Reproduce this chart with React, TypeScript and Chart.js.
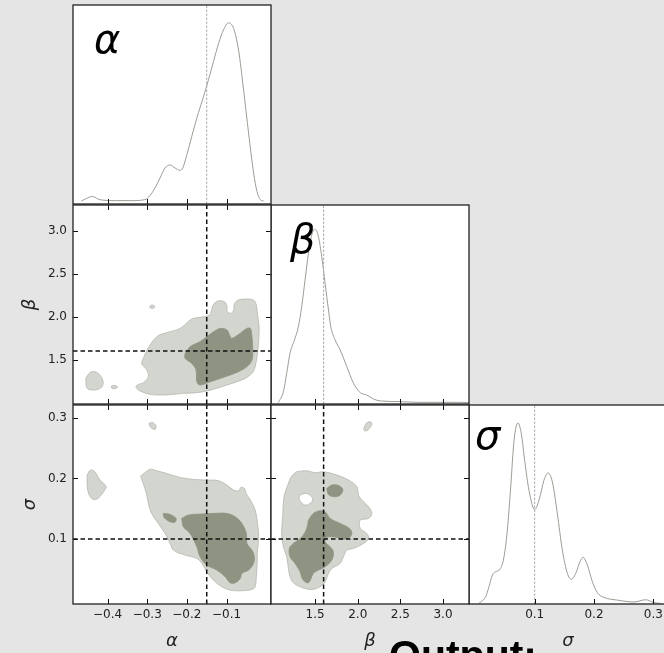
import React, { useEffect, useRef } from "react";
import { Chart, registerables } from "chart.js";

Chart.register(...registerables);

type Pt = [number, number];

// ---------- axis limits, ticks, truths ----------
const ALPHA_LIM: Pt = [-0.487, 0.012];
const BETA_LIM: Pt = [0.983, 3.305];
const SIGMA_LIM_X: Pt = [-0.0107, 0.323];
const SIGMA_LIM_Y: Pt = [-0.007, 0.321];
const ALPHA_TICKS = [-0.4, -0.3, -0.2, -0.1];
const BETA_TICKS = [1.5, 2.0, 2.5, 3.0];
const SIGMA_TICKS = [0.1, 0.2, 0.3];
const TRUTH_ALPHA = -0.15;
const TRUTH_BETA = 1.6;
const TRUTH_SIGMA = 0.1;
const NAME_ALPHA = "α";
const NAME_BETA = "β";
const NAME_SIGMA = "σ";
const FOOTER_TEXT = "Output:";

// ---------- 1D marginals (normalised density) ----------
const ALPHA_GRID = [-0.466, -0.455, -0.438, -0.425, -0.41, -0.38, -0.34, -0.3056, -0.293, -0.2804, -0.2677, -0.255, -0.2425, -0.2298, -0.217, -0.2104, -0.2, -0.1877, -0.175, -0.158, -0.1456, -0.133, -0.12, -0.1077, -0.095, -0.0824, -0.0698, -0.0571, -0.0445, -0.0318, -0.0234, -0.015, -0.0066];
const ALPHA_DENS = [0, 0.012, 0.026, 0.012, 0.004, 0.002, 0.002, 0.0075, 0.03, 0.073, 0.129, 0.185, 0.202, 0.185, 0.172, 0.185, 0.26, 0.362, 0.465, 0.586, 0.68, 0.782, 0.885, 0.96, 1.0, 0.969, 0.848, 0.624, 0.381, 0.157, 0.054, 0.0075, 0];
const ALPHA_DENS_LIM: Pt = [-0.017, 1.1];

const BETA_GRID = [1.069, 1.128, 1.167, 1.206, 1.265, 1.304, 1.343, 1.3825, 1.422, 1.461, 1.5, 1.539, 1.578, 1.6175, 1.657, 1.684, 1.735, 1.794, 1.872, 1.95, 2.029, 2.107, 2.185, 2.264, 2.499, 2.695, 3.204, 3.31];
const BETA_DENS = [0, 0.063, 0.169, 0.285, 0.371, 0.438, 0.554, 0.708, 0.862, 0.967, 1.0, 0.958, 0.842, 0.688, 0.535, 0.438, 0.362, 0.304, 0.208, 0.112, 0.058, 0.044, 0.021, 0.01, 0.006, 0.002, 0.002, 0];
const BETA_DENS_LIM: Pt = [-0.0077, 1.14];

const SIGMA_GRID = [0.0062, 0.0174, 0.023, 0.0287, 0.037, 0.0427, 0.0483, 0.0539, 0.0596, 0.0652, 0.0719, 0.0775, 0.0831, 0.0904, 0.1, 0.1073, 0.1157, 0.1225, 0.1298, 0.1382, 0.1466, 0.1551, 0.1618, 0.1691, 0.1764, 0.1815, 0.1888, 0.1972, 0.2056, 0.2169, 0.2393, 0.2674, 0.2871, 0.3011, 0.3124];
const SIGMA_DENS = [0, 0.037, 0.092, 0.157, 0.179, 0.194, 0.258, 0.406, 0.646, 0.904, 1.0, 0.941, 0.793, 0.627, 0.52, 0.572, 0.683, 0.723, 0.673, 0.498, 0.295, 0.166, 0.133, 0.166, 0.231, 0.255, 0.212, 0.12, 0.059, 0.033, 0.018, 0.0074, 0.02, 0.004, 0];
const SIGMA_DENS_LIM: Pt = [-0.0037, 1.1];

// ---------- 2D contours (alpha, beta) ----------
const AB_OUTER: Pt[] = [[-0.301, 1.613], [-0.276, 1.768], [-0.251, 1.815], [-0.217, 1.865], [-0.188, 1.974], [-0.167, 1.994], [-0.148, 2.009], [-0.14, 2.04], [-0.135, 2.126], [-0.126, 2.176], [-0.114, 2.188], [-0.103, 2.168], [-0.099, 2.118], [-0.098, 2.06], [-0.089, 2.04], [-0.082, 2.079], [-0.08, 2.157], [-0.07, 2.196], [-0.053, 2.207], [-0.032, 2.196], [-0.025, 2.137], [-0.022, 2.021], [-0.018, 1.885], [-0.019, 1.729], [-0.022, 1.574], [-0.028, 1.418], [-0.036, 1.341], [-0.053, 1.282], [-0.074, 1.243], [-0.099, 1.205], [-0.125, 1.166], [-0.15, 1.135], [-0.175, 1.115], [-0.209, 1.107], [-0.242, 1.092], [-0.268, 1.088], [-0.293, 1.096], [-0.318, 1.135], [-0.328, 1.177], [-0.325, 1.205], [-0.31, 1.232], [-0.297, 1.302], [-0.301, 1.38], [-0.308, 1.418], [-0.314, 1.457], [-0.308, 1.535]];
const AB_OUTER_B: Pt[] = [[-0.4548, 1.2824], [-0.4447, 1.3484], [-0.432, 1.36], [-0.4194, 1.3212], [-0.411, 1.2435], [-0.4152, 1.1774], [-0.432, 1.1463], [-0.4514, 1.1658]];
const AB_OUTER_C: Pt[] = [[-0.3899, 1.193], [-0.3815, 1.2007], [-0.3747, 1.1813], [-0.3815, 1.1619], [-0.3899, 1.1697]];
const AB_OUTER_D: Pt[] = [[-0.293, 2.1257], [-0.2863, 2.1374], [-0.2804, 2.118], [-0.2863, 2.0985], [-0.293, 2.1063]];
const AB_INNER: Pt[] = [[-0.2045, 1.574], [-0.192, 1.652], [-0.167, 1.71], [-0.15, 1.768], [-0.133, 1.826], [-0.116, 1.865], [-0.099, 1.846], [-0.0925, 1.788], [-0.087, 1.749], [-0.066, 1.807], [-0.049, 1.865], [-0.04, 1.865], [-0.036, 1.768], [-0.034, 1.613], [-0.036, 1.496], [-0.049, 1.418], [-0.07, 1.36], [-0.091, 1.321], [-0.116, 1.282], [-0.141, 1.243], [-0.167, 1.205], [-0.175, 1.243], [-0.177, 1.38], [-0.188, 1.457], [-0.2045, 1.516]];

// ---------- 2D contours (alpha, sigma) ----------
const AS_OUTER: Pt[] = [[-0.3166, 0.2038], [-0.293, 0.2148], [-0.276, 0.2126], [-0.251, 0.2082], [-0.217, 0.2016], [-0.1835, 0.1984], [-0.15, 0.1973], [-0.12, 0.1962], [-0.099, 0.189], [-0.082, 0.1808], [-0.069, 0.1797], [-0.064, 0.1852], [-0.055, 0.1835], [-0.05, 0.1742], [-0.04, 0.1643], [-0.028, 0.1478], [-0.022, 0.1258], [-0.019, 0.1038], [-0.022, 0.0819], [-0.023, 0.0599], [-0.025, 0.0379], [-0.028, 0.0214], [-0.036, 0.017], [-0.0655, 0.0148], [-0.091, 0.0159], [-0.112, 0.0214], [-0.133, 0.0324], [-0.15, 0.0462], [-0.162, 0.0599], [-0.175, 0.0681], [-0.2045, 0.0736], [-0.234, 0.0819], [-0.242, 0.0929], [-0.255, 0.1093], [-0.272, 0.1258], [-0.289, 0.1423], [-0.297, 0.1588], [-0.301, 0.1725], [-0.31, 0.1918]];
const AS_OUTER_B: Pt[] = [[-0.4514, 0.2055], [-0.443, 0.2137], [-0.432, 0.211], [-0.419, 0.1973], [-0.404, 0.1874], [-0.407, 0.1808], [-0.424, 0.167], [-0.436, 0.1654], [-0.446, 0.1725], [-0.451, 0.1863]];
const AS_OUTER_C: Pt[] = [[-0.2955, 0.2907], [-0.2863, 0.2923], [-0.2778, 0.2863], [-0.2804, 0.2808], [-0.2913, 0.2841]];
const AS_INNER: Pt[] = [[-0.213, 0.1341], [-0.196, 0.1396], [-0.167, 0.1412], [-0.133, 0.1423], [-0.099, 0.1423], [-0.078, 0.1368], [-0.0613, 0.1258], [-0.05, 0.1093], [-0.0487, 0.0929], [-0.036, 0.0819], [-0.03, 0.0709], [-0.032, 0.0599], [-0.0445, 0.0489], [-0.0613, 0.0434], [-0.0655, 0.0352], [-0.078, 0.028], [-0.091, 0.028], [-0.1035, 0.0379], [-0.1245, 0.0489], [-0.15, 0.0571], [-0.167, 0.0709], [-0.175, 0.0874], [-0.192, 0.1093], [-0.209, 0.1203]];
const AS_INNER_B: Pt[] = [[-0.2593, 0.1423], [-0.2425, 0.1407], [-0.2273, 0.1341], [-0.2298, 0.128], [-0.2425, 0.1286], [-0.2576, 0.1357]];

// ---------- 2D contours (beta, sigma) ----------
const BS_OUTER: Pt[] = [[1.2846, 0.211], [1.402, 0.2126], [1.5, 0.2093], [1.598, 0.211], [1.755, 0.2055], [1.892, 0.1973], [1.99, 0.1863], [2.009, 0.1725], [2.048, 0.1643], [2.127, 0.1533], [2.166, 0.1423], [2.127, 0.1341], [2.029, 0.1313], [2.029, 0.1176], [2.107, 0.1093], [2.127, 0.1011], [2.068, 0.0929], [1.95, 0.0846], [1.872, 0.0819], [1.833, 0.0709], [1.794, 0.0599], [1.696, 0.0516], [1.657, 0.0434], [1.618, 0.0297], [1.559, 0.0214], [1.461, 0.017], [1.343, 0.0203], [1.245, 0.028], [1.206, 0.0379], [1.187, 0.0516], [1.167, 0.0709], [1.128, 0.0874], [1.108, 0.1093], [1.12, 0.1368], [1.136, 0.1698], [1.187, 0.1918], [1.226, 0.2038]];
const BS_HOLE: Pt[] = [[1.324, 0.1725], [1.3825, 0.1753], [1.441, 0.1725], [1.473, 0.1643], [1.441, 0.1588], [1.3825, 0.156], [1.332, 0.1615], [1.312, 0.167]];
const BS_OUTER_B: Pt[] = [[2.068, 0.2808], [2.099, 0.2907], [2.146, 0.2934], [2.166, 0.2896], [2.127, 0.2808], [2.088, 0.278]];
const BS_INNER: Pt[] = [[1.422, 0.1313], [1.48, 0.1423], [1.559, 0.1467], [1.6175, 0.1451], [1.676, 0.1341], [1.794, 0.1258], [1.903, 0.1176], [1.931, 0.1093], [1.903, 0.1027], [1.813, 0.0995], [1.755, 0.1027], [1.696, 0.1038], [1.637, 0.1027], [1.6175, 0.0956], [1.676, 0.0874], [1.715, 0.0791], [1.696, 0.0654], [1.6175, 0.0544], [1.539, 0.0489], [1.48, 0.0434], [1.422, 0.028], [1.355, 0.0335], [1.324, 0.0462], [1.265, 0.0599], [1.206, 0.0709], [1.198, 0.0846], [1.245, 0.0929], [1.304, 0.0984], [1.363, 0.1066], [1.402, 0.1176]];
const BS_INNER_B: Pt[] = [[1.637, 0.1835], [1.696, 0.189], [1.774, 0.1885], [1.825, 0.1819], [1.794, 0.1725], [1.723, 0.1698], [1.657, 0.1736]];

// ---------- styling / layout ----------
const BG = "#e5e5e5";
const LIGHT = "#d3d5cf";
const LIGHT_EDGE = "#b4b8ae";
const DARK = "#8e9382";
const CURVE = "#9d9d95";
const FONT = "DejaVu Sans";
const COL_LEFT = [73, 271, 469];
const ROW_TOP = [5, 205, 405];
const PW = 198;
const PH = 199;
const YAXIS_W = 73;
const XAXIS_H = 49;
const M = 3;
const TICK_LEN = 5;

const fmt = (v: number) => (v < 0 ? "\u2212" : "") + Math.abs(v).toFixed(1);

function region(pts: Pt[], color: string, edge: string, order: number) {
  const closed = [...pts, pts[0]];
  return {
    data: closed.map(([x, y]) => ({ x, y })),
    fill: "shape",
    backgroundColor: color,
    borderColor: edge,
    borderWidth: 0.8,
    pointRadius: 0,
    tension: 0.35,
    order,
  };
}

function vLine(x: number, lim: Pt, color: string, width: number, dash: number[]) {
  return {
    data: [{ x, y: lim[0] }, { x, y: lim[1] }],
    borderColor: color,
    borderWidth: width,
    borderDash: dash,
    pointRadius: 0,
    fill: false,
    order: 1,
  };
}

function hLine(y: number, lim: Pt, color: string, width: number, dash: number[]) {
  return {
    data: [{ x: lim[0], y }, { x: lim[1], y }],
    borderColor: color,
    borderWidth: width,
    borderDash: dash,
    pointRadius: 0,
    fill: false,
    order: 1,
  };
}

function curve(xs: number[], ys: number[]) {
  return {
    data: xs.map((x, i) => ({ x, y: ys[i] })),
    borderColor: CURVE,
    borderWidth: 1,
    pointRadius: 0,
    fill: false,
    cubicInterpolationMode: "monotone",
    order: 2,
  };
}

const TRUTH_DASH = [4.5, 3];
const DIAG_DASH = [2.5, 1.5];

const cornerPlugin = {
  id: "corner",
  beforeDraw(chart: any) {
    const { ctx, chartArea: a } = chart;
    ctx.save();
    ctx.fillStyle = "#ffffff";
    ctx.fillRect(a.left, a.top, a.right - a.left, a.bottom - a.top);
    ctx.restore();
  },
  afterDraw(chart: any, _args: any, opts: any) {
    const { ctx, chartArea: a, scales } = chart;
    ctx.save();
    ctx.strokeStyle = "#111111";
    ctx.lineWidth = 1;
    ctx.beginPath();
    for (const t of scales.x.ticks) {
      const p = Math.round(scales.x.getPixelForValue(t.value)) + 0.5;
      ctx.moveTo(p, a.bottom);
      ctx.lineTo(p, a.bottom - TICK_LEN);
      if (!opts.diag) {
        ctx.moveTo(p, a.top);
        ctx.lineTo(p, a.top + TICK_LEN);
      }
    }
    if (!opts.diag) {
      for (const t of scales.y.ticks) {
        const p = Math.round(scales.y.getPixelForValue(t.value)) + 0.5;
        ctx.moveTo(a.left, p);
        ctx.lineTo(a.left + TICK_LEN, p);
        ctx.moveTo(a.right, p);
        ctx.lineTo(a.right - TICK_LEN, p);
      }
    }
    ctx.stroke();
    ctx.lineWidth = 1.3;
    ctx.strokeStyle = "#222222";
    ctx.strokeRect(a.left, a.top, a.right - a.left, a.bottom - a.top);
    if (opts.label) {
      ctx.fillStyle = "#000000";
      ctx.font = `italic 40px "${FONT}"`;
      ctx.textBaseline = "alphabetic";
      ctx.textAlign = "left";
      ctx.fillText(opts.label, a.left + opts.dx, a.top + opts.dy);
    }
    ctx.restore();
  },
};

interface PanelCfg {
  row: number;
  col: number;
  xLim: Pt;
  yLim: Pt;
  xTicks: number[];
  yTicks: number[];
  xTitle?: string;
  yTitle?: string;
  label?: string;
  labelDx?: number;
  labelDy?: number;
  datasets: any[];
}

function scaleCfg(axis: "x" | "y", lim: Pt, ticks: number[], show: boolean, title?: string) {
  return {
    type: "linear",
    position: axis === "x" ? "bottom" : "left",
    min: lim[0],
    max: lim[1],
    bounds: "data",
    display: show,
    afterBuildTicks: (s: any) => {
      s.ticks = ticks.map((v) => ({ value: v }));
    },
    afterFit: (s: any) => {
      if (axis === "x") s.height = show ? XAXIS_H : 0;
      else s.width = show ? YAXIS_W : 0;
      s.paddingTop = 0;
      s.paddingBottom = 0;
      s.paddingLeft = 0;
      s.paddingRight = 0;
    },
    grid: { display: false, drawTicks: false, drawOnChartArea: false },
    border: { display: false },
    ticks: {
      autoSkip: false,
      maxRotation: 0,
      minRotation: 0,
      padding: axis === "x" ? 4 : 6,
      color: "#222222",
      font: { family: FONT, size: 12 },
      callback: (v: any) => fmt(Number(v)),
    },
    title: {
      display: !!title,
      text: title || "",
      color: "#222222",
      font: { family: FONT, size: 18, style: "italic" },
      padding: axis === "x" ? { top: 0, bottom: 1 } : { top: 20, bottom: 0 },
    },
  };
}

function Panel({ cfg }: { cfg: PanelCfg }) {
  const ref = useRef<HTMLCanvasElement>(null);
  const showX = cfg.row === 2;
  const showY = cfg.col === 0 && cfg.row > 0;
  const left = showY ? COL_LEFT[cfg.col] - YAXIS_W : COL_LEFT[cfg.col] - M;
  const top = ROW_TOP[cfg.row] - M;
  const width = COL_LEFT[cfg.col] + PW + M - left;
  const height = ROW_TOP[cfg.row] + PH + (showX ? XAXIS_H : M) - top;

  useEffect(() => {
    if (!ref.current) return;
    const chart = new Chart(ref.current, {
      type: "line",
      data: { datasets: cfg.datasets },
      plugins: [cornerPlugin as any],
      options: {
        responsive: false,
        animation: false,
        devicePixelRatio: 1,
        events: [],
        layout: {
          padding: { left: showY ? 0 : M, top: M, right: M, bottom: showX ? 0 : M },
        },
        plugins: {
          legend: { display: false },
          tooltip: { enabled: false },
          corner: {
            diag: !!cfg.label,
            label: cfg.label || "",
            dx: cfg.labelDx || 0,
            dy: cfg.labelDy || 0,
          },
        } as any,
        scales: {
          x: scaleCfg("x", cfg.xLim, cfg.xTicks, showX, showX ? cfg.xTitle : undefined),
          y: scaleCfg("y", cfg.yLim, cfg.yTicks, showY, showY ? cfg.yTitle : undefined),
        } as any,
      },
    } as any);
    return () => chart.destroy();
  }, []);

  return (
    <canvas
      ref={ref}
      width={width}
      height={height}
      style={{ position: "absolute", left, top, width, height }}
    />
  );
}

const PANELS: PanelCfg[] = [
  {
    row: 0, col: 0, xLim: ALPHA_LIM, yLim: ALPHA_DENS_LIM, xTicks: ALPHA_TICKS, yTicks: [],
    label: NAME_ALPHA, labelDx: 21, labelDy: 48,
    datasets: [curve(ALPHA_GRID, ALPHA_DENS), vLine(TRUTH_ALPHA, ALPHA_DENS_LIM, "#aaaaaa", 1, DIAG_DASH)],
  },
  {
    row: 1, col: 1, xLim: BETA_LIM, yLim: BETA_DENS_LIM, xTicks: BETA_TICKS, yTicks: [],
    label: NAME_BETA, labelDx: 19, labelDy: 48,
    datasets: [curve(BETA_GRID, BETA_DENS), vLine(TRUTH_BETA, BETA_DENS_LIM, "#aaaaaa", 1, DIAG_DASH)],
  },
  {
    row: 2, col: 2, xLim: SIGMA_LIM_X, yLim: SIGMA_DENS_LIM, xTicks: SIGMA_TICKS, yTicks: [],
    xTitle: NAME_SIGMA, label: NAME_SIGMA, labelDx: 6, labelDy: 44,
    datasets: [curve(SIGMA_GRID, SIGMA_DENS), vLine(TRUTH_SIGMA, SIGMA_DENS_LIM, "#aaaaaa", 1, DIAG_DASH)],
  },
  {
    row: 1, col: 0, xLim: ALPHA_LIM, yLim: BETA_LIM, xTicks: ALPHA_TICKS, yTicks: BETA_TICKS,
    yTitle: NAME_BETA,
    datasets: [
      region(AB_OUTER, LIGHT, LIGHT_EDGE, 6),
      region(AB_OUTER_B, LIGHT, LIGHT_EDGE, 6),
      region(AB_OUTER_C, LIGHT, LIGHT_EDGE, 6),
      region(AB_OUTER_D, LIGHT, LIGHT_EDGE, 6),
      region(AB_INNER, DARK, DARK, 4),
      vLine(TRUTH_ALPHA, BETA_LIM, "#111111", 1.5, TRUTH_DASH),
      hLine(TRUTH_BETA, ALPHA_LIM, "#111111", 1.5, TRUTH_DASH),
    ],
  },
  {
    row: 2, col: 0, xLim: ALPHA_LIM, yLim: SIGMA_LIM_Y, xTicks: ALPHA_TICKS, yTicks: SIGMA_TICKS,
    xTitle: NAME_ALPHA, yTitle: NAME_SIGMA,
    datasets: [
      region(AS_OUTER, LIGHT, LIGHT_EDGE, 6),
      region(AS_OUTER_B, LIGHT, LIGHT_EDGE, 6),
      region(AS_OUTER_C, LIGHT, LIGHT_EDGE, 6),
      region(AS_INNER, DARK, DARK, 4),
      region(AS_INNER_B, DARK, DARK, 4),
      vLine(TRUTH_ALPHA, SIGMA_LIM_Y, "#111111", 1.5, TRUTH_DASH),
      hLine(TRUTH_SIGMA, ALPHA_LIM, "#111111", 1.5, TRUTH_DASH),
    ],
  },
  {
    row: 2, col: 1, xLim: BETA_LIM, yLim: SIGMA_LIM_Y, xTicks: BETA_TICKS, yTicks: SIGMA_TICKS,
    xTitle: NAME_BETA,
    datasets: [
      region(BS_OUTER, LIGHT, LIGHT_EDGE, 6),
      region(BS_OUTER_B, LIGHT, LIGHT_EDGE, 6),
      region(BS_HOLE, "#ffffff", LIGHT_EDGE, 5),
      region(BS_INNER, DARK, DARK, 4),
      region(BS_INNER_B, DARK, DARK, 4),
      vLine(TRUTH_BETA, SIGMA_LIM_Y, "#111111", 1.5, TRUTH_DASH),
      hLine(TRUTH_SIGMA, BETA_LIM, "#111111", 1.5, TRUTH_DASH),
    ],
  },
];

export default function App() {
  return (
    <div style={{ position: "fixed", left: 0, top: 0, width: "100vw", height: "100vh", background: BG, overflow: "hidden" }}>
      {PANELS.map((p, i) => (
        <Panel key={i} cfg={p} />
      ))}
      <div
        style={{
          position: "absolute",
          left: 389,
          top: 635,
          fontFamily: '"Liberation Sans", Arial, sans-serif',
          fontWeight: "bold",
          fontSize: 41,
          lineHeight: 1,
          color: "#000000",
          whiteSpace: "nowrap",
        }}
      >
        {FOOTER_TEXT}
      </div>
    </div>
  );
}
